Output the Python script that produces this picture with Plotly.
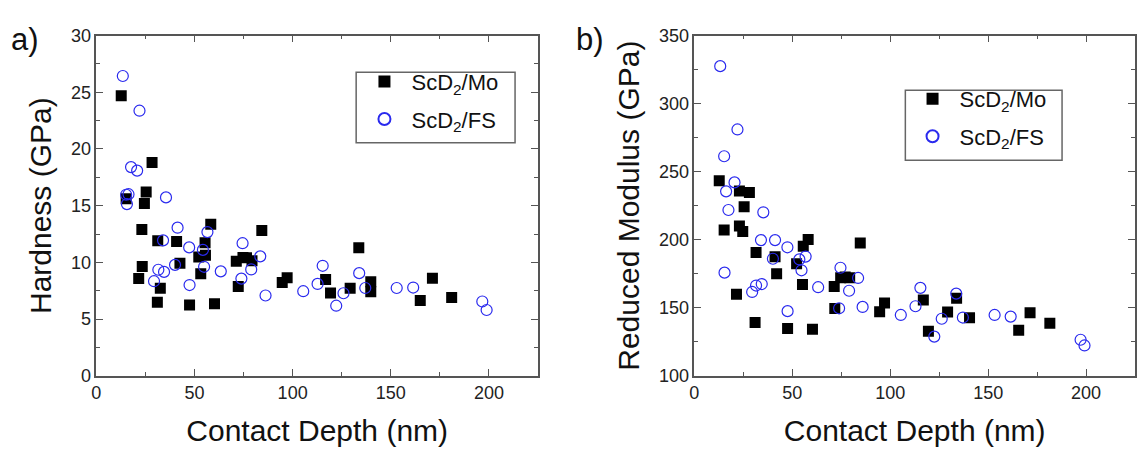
import plotly.graph_objects as go

# ---- Data ----
# Panel a) Hardness vs contact depth
mo_depth_a = [12.7, 15.2, 21.6, 23.2, 23.4, 24.5, 25.4, 28.4, 31.1, 31.3, 32.6, 40.9, 42.6, 47.5,
              52.2, 53.2, 55.4, 55.6, 58.3, 60.2, 71.3, 72.3, 74.7, 76.5, 79.3, 84.3, 94.7, 97.2,
              116.8, 119.3, 129.3, 133.7, 139.8, 139.8, 165.0, 171.2, 181.0]
mo_hardness = [24.7, 15.6, 8.57, 12.9, 9.63, 15.2, 16.2, 18.8, 6.49, 11.9, 7.72, 11.83, 9.92, 6.24,
               10.48, 8.99, 11.74, 10.62, 13.37, 6.35, 10.11, 7.87, 10.42, 10.4, 10.14, 12.81, 8.23, 8.65,
               8.48, 7.30, 7.72, 11.29, 8.29, 7.42, 6.63, 8.59, 6.91]

fs_depth_a = [13.5, 22.0, 17.7, 20.8, 15.2, 16.4, 15.6, 35.5, 41.4, 34.0, 47.3, 56.6, 54.3, 54.9,
              40.1, 31.6, 34.5, 29.4, 47.5, 63.4, 74.5, 73.9, 78.9, 83.5, 86.2, 105.4, 112.7, 115.3,
              122.2, 125.9, 133.9, 137.0, 153.0, 161.4, 196.6, 198.8]
fs_hardness = [26.43, 23.37, 18.4, 18.09, 15.96, 16.01, 15.14, 15.73, 13.06, 11.94, 11.32, 12.67, 11.1, 9.61,
               9.78, 9.35, 9.16, 8.34, 8.0, 9.21, 11.69, 8.57, 9.38, 10.53, 7.08, 7.46, 8.1, 9.7,
               6.18, 7.28, 9.05, 7.74, 7.74, 7.78, 6.55, 5.8]

# Panel b) Reduced modulus vs contact depth
mo_depth_b = [12.7, 15.2, 21.5, 23.0, 23.0, 24.7, 25.4, 28.1, 31.0, 31.5, 41.2, 42.0, 47.6, 52.2,
              55.2, 55.6, 58.1, 60.3, 71.4, 71.7, 74.7, 77.0, 79.3, 84.7, 94.6, 97.1, 116.9, 119.5,
              129.3, 133.9, 140.5, 165.6, 171.4, 181.5]
mo_modulus = [243.3, 207.2, 160.0, 235.8, 210.0, 206.0, 224.2, 234.6, 139.1, 190.6, 187.4, 174.9, 134.7, 182.4,
              167.0, 195.1, 200.2, 134.2, 165.6, 149.4, 172.1, 172.5, 172.1, 197.6, 147.1, 153.4, 155.7, 132.8,
              146.8, 156.9, 142.6, 133.5, 146.4, 138.6]

fs_depth_b = [13.2, 22.0, 15.2, 20.5, 16.2, 17.4, 35.2, 34.0, 41.2, 47.5, 40.1, 53.6, 56.8, 54.7,
              15.4, 34.4, 31.5, 29.5, 47.6, 63.2, 74.6, 83.6, 79.0, 73.9, 85.9, 105.4, 112.9, 115.4,
              122.5, 126.3, 133.7, 137.1, 153.3, 161.5, 197.2, 199.2]
fs_modulus = [327.5, 281.0, 261.3, 242.1, 235.5, 221.8, 220.1, 199.7, 199.7, 194.4, 186.0, 185.5, 187.6, 177.5,
              175.8, 167.4, 166.3, 161.6, 147.5, 165.1, 179.4, 171.9, 162.5, 149.6, 150.6, 144.7, 151.1, 164.6,
              128.8, 141.9, 160.4, 142.8, 144.7, 143.5, 126.5, 122.3]

mo_name = "ScD<sub>2</sub>/Mo"
fs_name = "ScD<sub>2</sub>/FS"

FONT = "Liberation Sans, Arial, sans-serif"
W, H = 1143, 453

fig = go.Figure()

sq = dict(symbol="square", size=11, color="black", line=dict(width=0))
ci = dict(symbol="circle-open", size=11, color="#2a2aee", line=dict(width=1.2, color="#2a2aee"))

fig.add_trace(go.Scatter(x=mo_depth_a, y=mo_hardness, mode="markers", name=mo_name,
                         marker=sq, xaxis="x", yaxis="y", legend="legend", legendgroup="a1"))
fig.add_trace(go.Scatter(x=fs_depth_a, y=fs_hardness, mode="markers", name=fs_name,
                         marker=ci, xaxis="x", yaxis="y", legend="legend", legendgroup="a2"))
fig.add_trace(go.Scatter(x=mo_depth_b, y=mo_modulus, mode="markers", name=mo_name,
                         marker=sq, xaxis="x2", yaxis="y2", legend="legend2", legendgroup="b1"))
fig.add_trace(go.Scatter(x=fs_depth_b, y=fs_modulus, mode="markers", name=fs_name,
                         marker=ci, xaxis="x2", yaxis="y2", legend="legend2", legendgroup="b2"))

def px_x(p):
    return p / W

def px_y(p):
    return (H - p) / H

axis_common = dict(
    showline=True, linecolor="#555555", linewidth=1.5, mirror="ticks",
    ticks="inside", ticklen=7, tickwidth=1.2, tickcolor="#555555",
    showgrid=False, zeroline=False,
    tickfont=dict(family=FONT, size=18, color="#222222"),
)
title_font = dict(family=FONT, size=30, color="#111111")
minor_common = dict(ticks="inside", ticklen=4, tickcolor="#555555")

ydom = [px_y(382.7), px_y(26.7)]

legend_common = dict(xanchor="left", yanchor="top", borderwidth=0, bgcolor="rgba(0,0,0,0)",
                     font=dict(family=FONT, size=22, color="#111111"),
                     tracegroupgap=6, itemsizing="constant", itemwidth=44)

fig.update_layout(
    width=W, height=H,
    margin=dict(l=0, r=0, t=0, b=0),
    paper_bgcolor="white", plot_bgcolor="white",
    font=dict(family=FONT, color="#111111"),
    xaxis=dict(domain=[px_x(91.7), px_x(535.4)], range=[0, 225], dtick=50, tick0=0,
               minor=dict(dtick=25, **minor_common),
               title=dict(text="Contact Depth (nm)", font=title_font, standoff=18),
               anchor="y", **axis_common),
    yaxis=dict(domain=ydom, range=[0, 30], dtick=5, tick0=0,
               minor=dict(dtick=2.5, **minor_common),
               title=dict(text="Hardness (GPa)", font=title_font, standoff=10),
               anchor="x", **axis_common),
    xaxis2=dict(domain=[px_x(692.4), px_x(1135)], range=[0, 225], dtick=50, tick0=0,
                minor=dict(dtick=25, **minor_common),
                title=dict(text="Contact Depth (nm)", font=title_font, standoff=18),
                anchor="y2", **axis_common),
    yaxis2=dict(domain=ydom, range=[100, 350], dtick=50, tick0=100,
                minor=dict(dtick=25, **minor_common),
                title=dict(text="Reduced Modulus (GPa)", font=title_font, standoff=10),
                anchor="x2", **axis_common),
    legend=dict(x=px_x(354), y=px_y(53), **legend_common),
    legend2=dict(x=px_x(904.5), y=px_y(71), **legend_common),
    showlegend=True,
    shapes=[
        dict(type="rect", xref="paper", yref="paper",
             x0=px_x(352.7), x1=px_x(512.3), y0=px_y(139), y1=px_y(65),
             line=dict(color="#666666", width=1.5), fillcolor="rgba(0,0,0,0)", layer="below"),
        dict(type="rect", xref="paper", yref="paper",
             x0=px_x(904.3), x1=px_x(1061.7), y0=px_y(157.3), y1=px_y(84),
             line=dict(color="#666666", width=1.5), fillcolor="rgba(0,0,0,0)", layer="below"),
    ],
    annotations=[
        dict(text="a)", x=px_x(4), y=px_y(10), xref="paper", yref="paper",
             xanchor="left", yanchor="top", showarrow=False,
             font=dict(family=FONT, size=31, color="#111111")),
        dict(text="b)", x=px_x(572), y=px_y(10), xref="paper", yref="paper",
             xanchor="left", yanchor="top", showarrow=False,
             font=dict(family=FONT, size=31, color="#111111")),
    ],
)

fig.write_html("out.html")
